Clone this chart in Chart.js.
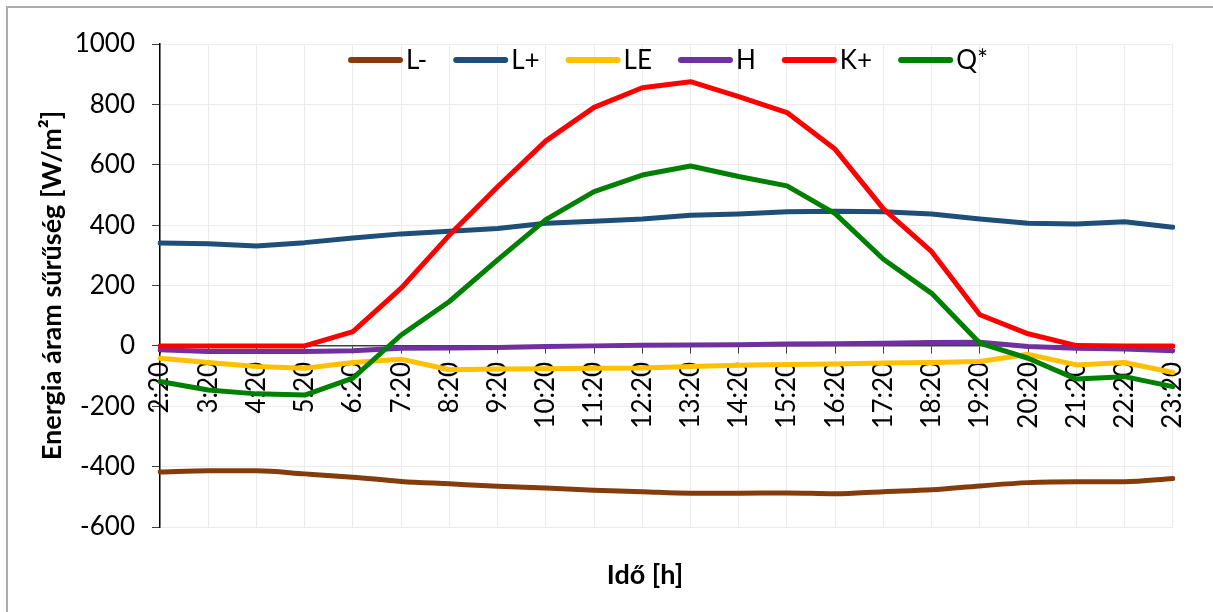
<!DOCTYPE html>
<html>
<head>
<meta charset="utf-8">
<script src="https://cdn.jsdelivr.net/npm/chart.js@4"></script>
<style>
  html, body { margin: 0; padding: 0; background: #fff; }
  canvas { display: block; }
</style>
</head>
<body>
<canvas id="c" width="1213" height="612"></canvas>
<script>
// Time of day (categories)
const times = ['2:20','3:20','4:20','5:20','6:20','7:20','8:20','9:20','10:20','11:20','12:20',
               '13:20','14:20','15:20','16:20','17:20','18:20','19:20','20:20','21:20','22:20','23:20'];

// Energy flux densities [W/m²]
const lMinus = [-418,-414,-414,-424,-435,-449,-457,-465,-471,-478,-483,-488,-488,-487,-490,-483,-477,-464,-453,-450,-450,-439];
const lPlus  = [341,338,331,342,357,371,380,389,406,413,420,433,437,444,446,444,437,420,406,404,411,393];
const le     = [-41,-55,-68,-74,-55,-44,-79,-77,-76,-74,-73,-68,-64,-62,-60,-57,-55,-52,-28,-63,-55,-88];
const h      = [-13,-19,-19,-19,-16,-8,-7,-5,-2,0,2,3,4,6,7,9,11,12,-2,-8,-10,-16];
const kPlus  = [0,0,0,0,47,191,367,527,679,790,855,875,826,773,651,454,312,103,40,1,0,0];
const qStar  = [-118,-146,-159,-163,-107,36,147,285,418,511,566,596,561,530,438,287,174,9,-41,-110,-102,-135];

// Series names and y-axis ticks
const seriesNames = ['L-','L+','LE','H','K+','Q*'];
const yTicks = [-600,-400,-200,0,200,400,600,800,1000];

const FONT = 'Lato';
const TICK_SIZE = 26;
const TITLE_SIZE = 27;
Chart.defaults.font.family = FONT;
Chart.defaults.color = '#000';

const colors = ['#843c0c','#1f4e79','#ffc000','#7030a0','#ff0000','#008000'];
const seriesData = [lMinus, lPlus, le, h, kPlus, qStar];

const datasets = seriesData.map((d, i) => ({
  label: seriesNames[i],
  data: d,
  borderColor: colors[i],
  backgroundColor: colors[i],
  borderWidth: 5,
  pointRadius: 0,
  tension: i === 0 ? 0.4 : 0,
  cubicInterpolationMode: i === 0 ? 'monotone' : 'default',
  borderJoinStyle: 'round',
  borderCapStyle: 'round',
  fill: false,
  order: seriesData.length - 1 - i
}));

// White page with the grey frame on the top and left edges
const framePlugin = {
  id: 'frame',
  beforeDraw(chart) {
    const ctx = chart.ctx;
    ctx.save();
    ctx.fillStyle = '#fff';
    ctx.fillRect(0, 0, chart.width, chart.height);
    ctx.strokeStyle = '#ababab';
    ctx.lineWidth = 2;
    ctx.beginPath();
    ctx.moveTo(chart.width, 7);
    ctx.lineTo(7, 7);
    ctx.lineTo(7, chart.height);
    ctx.stroke();
    ctx.restore();
  }
};

// Legend inside the plot area near the top, plus the horizontal axis title
const inlineLegend = {
  id: 'inlineLegend',
  afterDraw(chart) {
    const ctx = chart.ctx;
    const area = chart.chartArea;
    const lineLen = 55, textGap = 3, itemGap = 26;
    ctx.save();
    ctx.font = TICK_SIZE + 'px ' + FONT;
    ctx.textBaseline = 'middle';
    ctx.textAlign = 'left';
    const items = chart.data.datasets.map(ds => ({
      label: ds.label, color: ds.borderColor, w: ctx.measureText(ds.label).width
    }));
    const total = items.reduce((s, it) => s + lineLen + textGap + it.w, 0) + itemGap * (items.length - 1);
    let x = 668 - total / 2;
    const y = area.top + 16;
    items.forEach(it => {
      ctx.strokeStyle = it.color;
      ctx.lineWidth = 6;
      ctx.lineCap = 'round';
      ctx.beginPath();
      ctx.moveTo(x + 3, y);
      ctx.lineTo(x + lineLen - 3, y);
      ctx.stroke();
      ctx.fillStyle = '#000';
      ctx.fillText(it.label, x + lineLen + textGap, y + 1);
      x += lineLen + textGap + it.w + itemGap;
    });

    ctx.font = 'bold ' + TITLE_SIZE + 'px ' + FONT;
    ctx.textAlign = 'center';
    ctx.fillText('Idő [h]', 645, area.bottom + 48);
    ctx.restore();
  }
};

new Chart(document.getElementById('c'), {
  type: 'line',
  data: { labels: times, datasets },
  options: {
    responsive: false,
    animation: false,
    layout: { padding: { left: 36, top: 44, right: 37, bottom: 85 } },
    plugins: {
      legend: { display: false },
      tooltip: { enabled: false },
      title: { display: false }
    },
    scales: {
      x: {
        position: { y: 0 },
        offset: false,
        grid: { color: '#ebebeb', lineWidth: 1, tickLength: 7, tickColor: '#404040', drawOnChartArea: true },
        border: { color: '#404040', width: 1.5 },
        ticks: {
          font: { family: FONT, size: TICK_SIZE },
          color: '#000',
          maxRotation: 90,
          minRotation: 90,
          autoSkip: false,
          padding: 9
        },
        afterFit(scale) { scale.height = 0; }
      },
      y: {
        min: yTicks[0],
        max: yTicks[yTicks.length - 1],
        afterBuildTicks(scale) { scale.ticks = yTicks.map(v => ({ value: v })); },
        grid: { color: '#ebebeb', lineWidth: 1, tickLength: 8, tickColor: '#404040' },
        border: { color: '#000', width: 1.5 },
        ticks: {
          font: { family: FONT, size: TICK_SIZE },
          color: '#000',
          padding: 17,
          callback: v => String(v)
        },
        title: {
          display: true,
          text: 'Energia áram sűrűség [W/m²]',
          color: '#000',
          font: { family: FONT, size: TITLE_SIZE, weight: 'bold' },
          padding: { top: 0, bottom: 0 }
        },
        afterFit(scale) { scale.width = 124; }
      }
    }
  },
  plugins: [framePlugin, inlineLegend]
});
</script>
</body>
</html>
